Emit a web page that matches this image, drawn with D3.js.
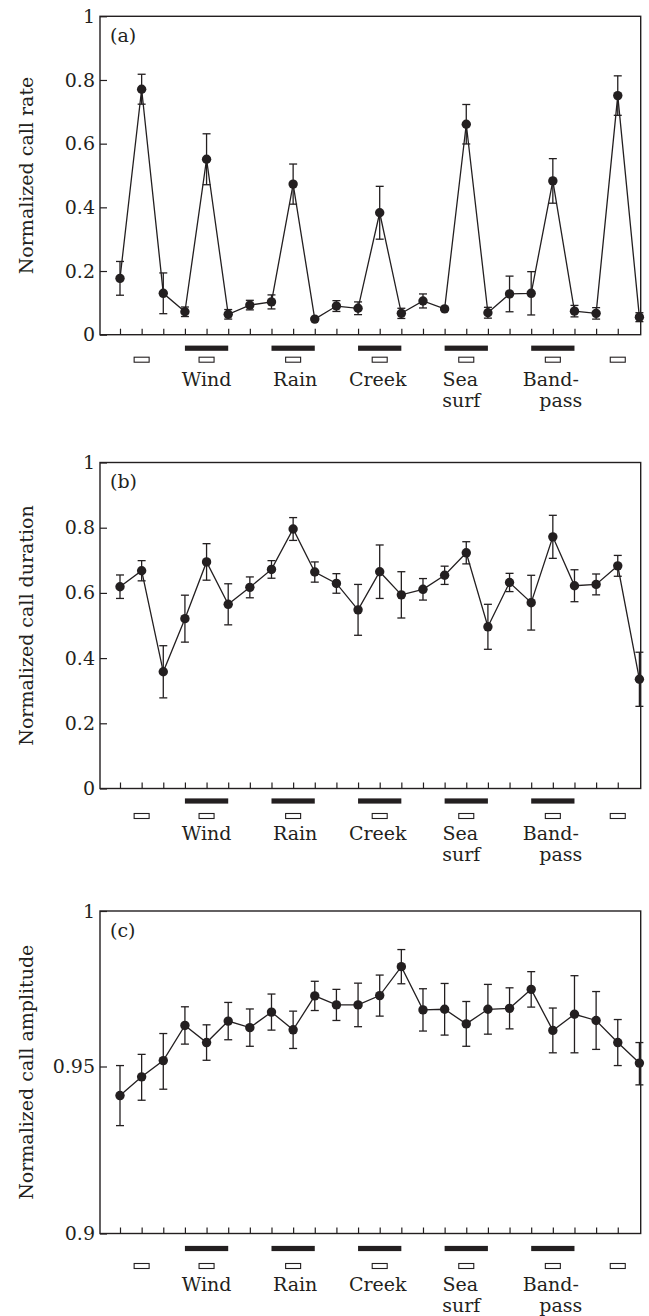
<!DOCTYPE html>
<html>
<head>
<meta charset="utf-8">
<script src="https://cdn.jsdelivr.net/npm/d3@7"></script>
<style>
  body { margin: 0; background: #fff; }
  svg text { font-family: "DejaVu Serif", serif; fill: #231f20; }
</style>
</head>
<body>
<div id="chart"></div>
<script>
// stimulus sequence, one point per playback block
var blocks = d3.range(25);

var rateMean = [0.177, 0.771, 0.130, 0.072, 0.551, 0.064, 0.093, 0.103, 0.473, 0.049, 0.090, 0.083, 0.383,
    0.067, 0.106, 0.081, 0.661, 0.069, 0.128, 0.130, 0.483, 0.074, 0.067, 0.751, 0.055];
var rateErr = [0.053, 0.047, 0.064, 0.015, 0.080, 0.015, 0.015, 0.022, 0.063, 0.003, 0.017, 0.020, 0.083,
    0.016, 0.022, 0.003, 0.062, 0.017, 0.056, 0.068, 0.070, 0.018, 0.018, 0.062, 0.014];

var durMean = [0.619, 0.668, 0.358, 0.521, 0.695, 0.565, 0.617, 0.672, 0.796, 0.664, 0.629, 0.548, 0.665,
    0.594, 0.611, 0.654, 0.723, 0.496, 0.632, 0.570, 0.772, 0.622, 0.626, 0.683, 0.335];
var durErr = [0.036, 0.031, 0.080, 0.072, 0.056, 0.063, 0.032, 0.027, 0.035, 0.031, 0.030, 0.078, 0.082,
    0.071, 0.033, 0.028, 0.034, 0.069, 0.028, 0.084, 0.066, 0.049, 0.032, 0.032, 0.083];

var ampMean = [0.9413, 0.9469, 0.9519, 0.9632, 0.9577, 0.9646, 0.9625, 0.9675, 0.9618, 0.9727, 0.9698, 0.9698,
    0.9728, 0.9821, 0.9682, 0.9684, 0.9637, 0.9684, 0.9687, 0.9748, 0.9616, 0.9668, 0.9648, 0.9577, 0.9511];
var ampErr = [0.0090, 0.0070, 0.0087, 0.0060, 0.0057, 0.0060, 0.0060, 0.0058, 0.0060, 0.0047, 0.0050, 0.0070,
    0.0066, 0.0055, 0.0068, 0.0083, 0.0072, 0.0080, 0.0066, 0.0057, 0.0072, 0.0124, 0.0093, 0.0074, 0.0066];

// noise playbacks (black bars) and silent controls (open boxes)
var noiseNames = [["Wind"], ["Rain"], ["Creek"], ["Sea", "surf"], ["Band-", "pass"]];
var noiseStart = [3, 7, 11, 15, 19];
var noiseEnd = [5, 9, 13, 17, 21];
var noiseLabelAt = [4, 8, 12, 16, 20];
var silentAt = [1, 4, 8, 12, 16, 20, 23];

var rateTicks = [0, 0.2, 0.4, 0.6, 0.8, 1];
var durTicks = [0, 0.2, 0.4, 0.6, 0.8, 1];
var ampTicks = [0.9, 0.95, 1];

var ink = "#231f20";
var W = 649, H = 1316;
var left = 100, right = 640.7;

var svg = d3.select("#chart").append("svg").attr("width", W).attr("height", H);

var x = d3.scaleLinear().domain([-0.924, 24.06]).range([left, right]);

var panels = [
    {tag: "(a)", label: "Normalized call rate", mean: rateMean, err: rateErr, ticks: rateTicks,
        y: d3.scaleLinear().domain([0, 1]).range([334.7, 16.3]), fmt: d3.format("~g"),
        barDy: 13.5, boxDy: 22.5, textDy: 51, lineH: 21},
    {tag: "(b)", label: "Normalized call duration", mean: durMean, err: durErr, ticks: durTicks,
        y: d3.scaleLinear().domain([0, 1]).range([788.5, 462.5]), fmt: d3.format("~g"),
        barDy: 12.5, boxDy: 25, textDy: 51, lineH: 21},
    {tag: "(c)", label: "Normalized call amplitude", mean: ampMean, err: ampErr, ticks: ampTicks,
        y: d3.scaleLinear().domain([0.9, 0.95, 1]).range([1233.5, 1066.5, 911]), fmt: d3.format("~g"),
        barDy: 15, boxDy: 30, textDy: 57.5, lineH: 21}
];

panels.forEach(function (p) {
    var y = p.y;
    var y0 = y(p.ticks[0]), y1 = y(p.ticks[p.ticks.length - 1]);
    var g = svg.append("g");

    // frame
    g.append("rect")
        .attr("x", left).attr("y", y1)
        .attr("width", right - left).attr("height", y0 - y1)
        .attr("fill", "none").attr("stroke", ink).attr("stroke-width", 1.4);

    // y axis, ticks pointing in
    var ya = g.append("g").attr("transform", "translate(" + left + ",0)")
        .call(d3.axisLeft(y).tickValues(p.ticks).tickFormat(p.fmt).tickSizeInner(-7).tickSizeOuter(0).tickPadding(5));
    ya.select(".domain").remove();
    ya.selectAll("line").attr("stroke", ink).attr("stroke-width", 1.2);
    ya.selectAll("text").style("font-size", "19px").attr("fill", ink);

    // x axis ticks
    var xa = g.append("g").attr("transform", "translate(0," + y0 + ")")
        .call(d3.axisBottom(x).tickValues(d3.range(24)).tickFormat("").tickSizeInner(-6).tickSizeOuter(0));
    xa.select(".domain").remove();
    xa.selectAll("line").attr("stroke", ink).attr("stroke-width", 1.2);

    // y label
    g.append("text")
        .attr("transform", "translate(33," + ((y0 + y1) / 2) + ") rotate(-90)")
        .attr("text-anchor", "middle")
        .style("font-size", "19px")
        .text(p.label);

    g.append("text")
        .attr("x", 110).attr("y", y1 + 25.5)
        .style("font-size", "19px")
        .text(p.tag);

    // error bars
    var eb = g.selectAll(".eb").data(blocks).enter().append("g");
    eb.append("line")
        .attr("x1", function (d) { return x(d); }).attr("x2", function (d) { return x(d); })
        .attr("y1", function (d) { return y(p.mean[d] + p.err[d]); })
        .attr("y2", function (d) { return y(p.mean[d] - p.err[d]); })
        .attr("stroke", ink).attr("stroke-width", 1.3);
    [1, -1].forEach(function (s) {
        eb.append("line")
            .attr("x1", function (d) { return x(d) - 4; }).attr("x2", function (d) { return x(d) + 4; })
            .attr("y1", function (d) { return y(p.mean[d] + s * p.err[d]); })
            .attr("y2", function (d) { return y(p.mean[d] + s * p.err[d]); })
            .attr("stroke", ink).attr("stroke-width", 1.3);
    });

    // connecting line
    var line = d3.line()
        .x(function (d) { return x(d); })
        .y(function (d) { return y(p.mean[d]); });
    g.append("path").datum(blocks)
        .attr("d", line)
        .attr("fill", "none").attr("stroke", ink).attr("stroke-width", 1.3);

    g.selectAll(".dot").data(blocks).enter().append("circle")
        .attr("cx", function (d) { return x(d); })
        .attr("cy", function (d) { return y(p.mean[d]); })
        .attr("r", 4.7)
        .attr("fill", ink);

    // noise bars
    g.selectAll(".nb").data(noiseStart).enter().append("rect")
        .attr("x", function (d) { return x(d); })
        .attr("y", y0 + p.barDy - 2.6)
        .attr("width", function (d, i) { return x(noiseEnd[i]) - x(d); })
        .attr("height", 5.2)
        .attr("fill", ink);

    // silent controls
    g.selectAll(".sb").data(silentAt).enter().append("rect")
        .attr("x", function (d) { return x(d) - 7.5; })
        .attr("y", y0 + p.boxDy)
        .attr("width", 15).attr("height", 5)
        .attr("fill", "#fff").attr("stroke", ink).attr("stroke-width", 1.1);

    // noise names
    var offs = [[0], [2], [-2], [-6, -5], [-2, 8]];
    noiseLabelAt.forEach(function (d, i) {
        noiseNames[i].forEach(function (t, k) {
            g.append("text")
                .attr("x", x(d) + offs[i][k])
                .attr("y", y0 + p.textDy + k * p.lineH)
                .attr("text-anchor", "middle")
                .style("font-size", "19px")
                .text(t);
        });
    });
});
</script>
</body>
</html>
